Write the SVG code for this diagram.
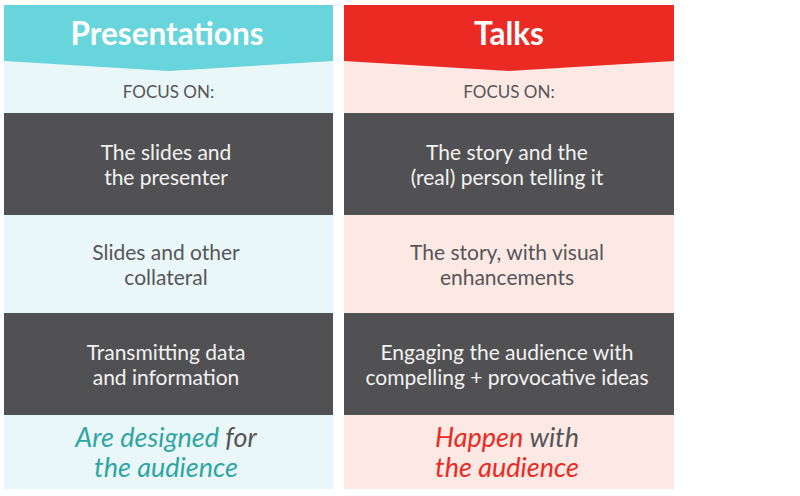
<svg xmlns="http://www.w3.org/2000/svg" width="800" height="496" viewBox="0 0 800 496">
<style>
.hd{font-family:Lato,"Open Sans","Liberation Sans",sans-serif;font-weight:bold;font-size:31.5px;fill:#fff;text-anchor:middle}
.fo{font-family:Lato,"Open Sans","Liberation Sans",sans-serif;font-size:17px;fill:#555558;text-anchor:middle}
.bx{font-family:Lato,"Open Sans","Liberation Sans",sans-serif;font-size:21px;fill:#f2f2f2;text-anchor:middle}
.it{font-family:Lato,"Open Sans","Liberation Sans",sans-serif;font-style:italic;font-size:27px;text-anchor:middle}
.dark{fill:#515153}
</style>
<rect width="800" height="496" fill="#fff"/>
<g id="presentations">
<rect x="4" y="5" width="329" height="484" fill="#eaf7f8"/>
<polygon points="4,5 333,5 333,61 168.5,71 4,61" fill="#67d5db"/>
<text class="hd" x="167" y="45">Presentations</text>
<text class="fo" x="168.5" y="98">FOCUS ON:</text>
</g>
<g id="talks">
<rect x="344" y="5" width="330" height="484" fill="#fde9e4"/>
<polygon points="344,5 674,5 674,61 509,71 344,61" fill="#ec2a24"/>
<text class="hd" x="509" y="45">Talks</text>
<text class="fo" x="509" y="98">FOCUS ON:</text>
</g>
<g id="p1"><rect class="dark" x="4" y="113" width="329" height="102"/>
<text class="bx" x="166" y="160">The slides and</text><text class="bx" x="166" y="185">the presenter</text></g>
<g id="p2"><text class="bx" x="166" y="260" style="fill:#555558">Slides and other</text><text class="bx" x="166" y="285" style="fill:#555558">collateral</text></g>
<g id="p3"><rect class="dark" x="4" y="313" width="329" height="102"/>
<text class="bx" x="166" y="360">Transmitting data</text><text class="bx" x="166" y="385">and information</text></g>
<g id="p4"><text class="it" x="166" y="447"><tspan fill="#2fa5a4">Are designed </tspan><tspan fill="#555558">for</tspan></text>
<text class="it" x="166" y="477" fill="#2fa5a4">the audience</text></g>
<g id="t1"><rect class="dark" x="344" y="113" width="330" height="102"/>
<text class="bx" x="507" y="160">The story and the</text><text class="bx" x="507" y="185">(real) person telling it</text></g>
<g id="t2"><text class="bx" x="507" y="260" style="fill:#555558">The story, with visual</text><text class="bx" x="507" y="285" style="fill:#555558">enhancements</text></g>
<g id="t3"><rect class="dark" x="344" y="313" width="330" height="102"/>
<text class="bx" x="507" y="360">Engaging the audience with</text><text class="bx" x="507" y="385">compelling + provocative ideas</text></g>
<g id="t4"><text class="it" x="507" y="447"><tspan fill="#ec2a24">Happen </tspan><tspan fill="#555558">with</tspan></text>
<text class="it" x="507" y="477" fill="#ec2a24">the audience</text></g>
<g id="connectors"/>
</svg>
